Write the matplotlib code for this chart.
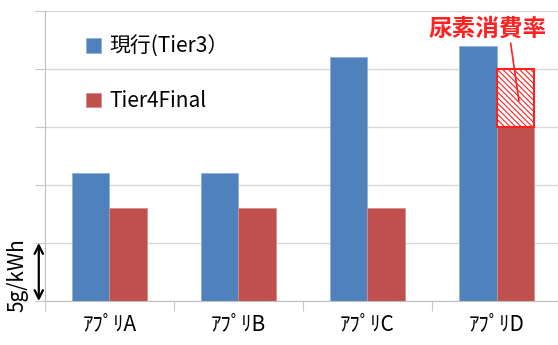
import numpy as np
import matplotlib.pyplot as plt
import matplotlib.transforms as mtransforms

plt.rcParams['font.family'] = ['Noto Sans CJK JP', 'DejaVu Sans']
plt.rcParams['hatch.linewidth'] = 0.8

categories = ['ｱﾌﾟﾘA', 'ｱﾌﾟﾘB', 'ｱﾌﾟﾘC', 'ｱﾌﾟﾘD']
tier3 = [11, 11, 21, 22]
tier4 = [8, 8, 8, 15]
urea = [0, 0, 0, 5]

blue = '#4F81BD'
red = '#C0504D'
accent = '#FF2020'
w = 0.29

fig = plt.figure(figsize=(5.58, 3.45), dpi=100)
ax = fig.add_axes([0.0806, 0.1275, 0.9248, 0.8405])

x = np.arange(len(categories))
ax.bar(x - w / 2, tier3, w, color=blue, edgecolor='#8FB0DA', linewidth=0.6, label='現行(Tier3）')
ax.bar(x + w / 2, tier4, w, color=red, edgecolor='#D88C8A', linewidth=0.6, label='Tier4Final')

# urea consumption shown on top of the Tier4Final bar
for i, u in enumerate(urea):
    if u > 0:
        ax.bar(x[i] + w / 2, u, w, bottom=tier4[i], color='white',
               edgecolor=accent, hatch='\\\\\\\\\\\\', linewidth=1.5)
        ax.annotate('尿素消費率', xy=(x[i] + 0.6 * w, tier4[i] + 0.45 * u),
                    xytext=(x[i] - 0.07, 23.5), ha='center', va='center',
                    fontsize=17, fontweight='bold', color=accent,
                    arrowprops=dict(arrowstyle='-', color=accent, lw=1.2,
                                    relpos=(0.69, 0.1), shrinkA=0, shrinkB=0))

ax.set_xlim(-0.5, len(categories) - 0.5)
ax.set_ylim(0, 25)
ax.set_yticks(np.arange(0, 26, 5))
ax.set_yticklabels([])
ax.tick_params(axis='y', length=7, color='#C8C8C8')
ax.yaxis.grid(True, color='#D9D9D9', linewidth=1)
ax.set_axisbelow(True)

ax.set_xticks(np.arange(-0.5, len(categories)), labels=[])
ax.set_xticks(x, labels=categories, minor=True)
ax.tick_params(axis='x', which='major', length=7, color='#C8C8C8')
ax.tick_params(axis='x', which='minor', length=0, labelsize=15, pad=9)

for s in ['top', 'right']:
    ax.spines[s].set_visible(False)
for s in ['left', 'bottom']:
    ax.spines[s].set_color('#BFBFBF')

# scale marker on the y axis
trans = mtransforms.blended_transform_factory(ax.transAxes, ax.transData)
ax.annotate('', xy=(-0.012, 0), xytext=(-0.012, 5), xycoords=trans, textcoords=trans,
            arrowprops=dict(arrowstyle='<->', color='black', lw=1.6,
                            shrinkA=0, shrinkB=0, mutation_scale=15),
            annotation_clip=False)
ax.text(-0.054, 2.2, '5g/kWh', transform=trans, rotation=90, ha='center', va='center',
        fontsize=15)

ax.legend(loc='upper left', bbox_to_anchor=(0.06, 0.95), frameon=False, fontsize=15,
          handlelength=0.7, handleheight=0.7, handletextpad=0.4, labelspacing=1.55,
          borderpad=0)

fig.savefig('out.png', dpi=100)
